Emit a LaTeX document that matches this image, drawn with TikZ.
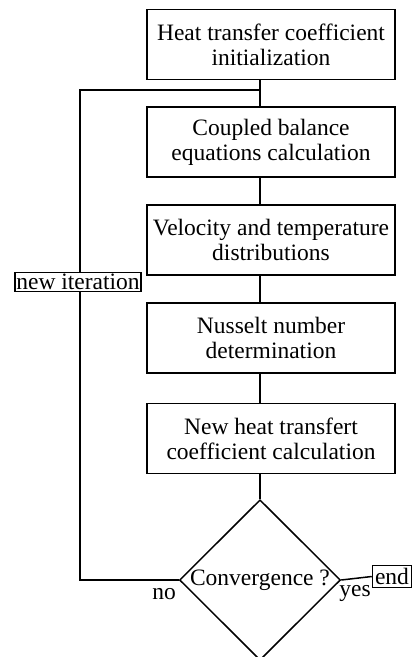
\documentclass[tikz,border=0pt]{standalone}
\usepackage{fontspec}
\setmainfont{Liberation Serif}
\usetikzlibrary{shapes.geometric,positioning}

\begin{document}
\begin{tikzpicture}[
    x=1pt, y=-1pt,
    line width=1.5pt,
    every node/.style={font=\fontsize{23.5}{25}\selectfont},
    stepbox/.style={rectangle, draw, minimum width=248pt, minimum height=70pt, align=center, inner sep=2pt},
    testbox/.style={diamond, draw, minimum width=161pt, minimum height=158pt, inner sep=0pt},
    tagbox/.style={rectangle, draw, fill=white, inner sep=1.5pt}
]
    \useasboundingbox (0,0) rectangle (413,657);

    % main chain
    \node[stepbox] (init) at (271,44.5) {Heat transfer coefficient\\initialization};
    \node[stepbox] (balance) at (271,142) {Coupled balance\\equations calculation};
    \node[stepbox] (fields) at (271,240) {Velocity and temperature\\distributions};
    \node[stepbox] (nusselt) at (271,338) {Nusselt number\\determination};
    \node[stepbox] (newcoef) at (271,438.5) {New heat transfert\\coefficient calculation};
    \node[testbox] (conv) at (260,580) {Convergence ?};

    \foreach \a/\b in {init/balance, balance/fields, fields/nusselt, nusselt/newcoef}
        \draw (\a.south -| conv.north) -- (\b.north -| conv.north);
    \draw (newcoef.south -| conv.north) -- (conv.north);

    % loop back
    \coordinate (loopbot) at (80,580);
    \coordinate (looptop) at (80,90);
    \draw (conv.west) -- (loopbot) -- (looptop) -- (looptop -| conv.north);
    \node[tagbox] (iter) at (78,282) {new iteration};
    \node (no) at (164,594) {no};

    % exit
    \node[tagbox, minimum width=39pt, minimum height=22pt, inner sep=0pt] (stop) at (392,576.5) {end};
    \draw (conv.east) -- (stop.west);
    \node (yes) at (355,593) {yes};
\end{tikzpicture}
\end{document}
